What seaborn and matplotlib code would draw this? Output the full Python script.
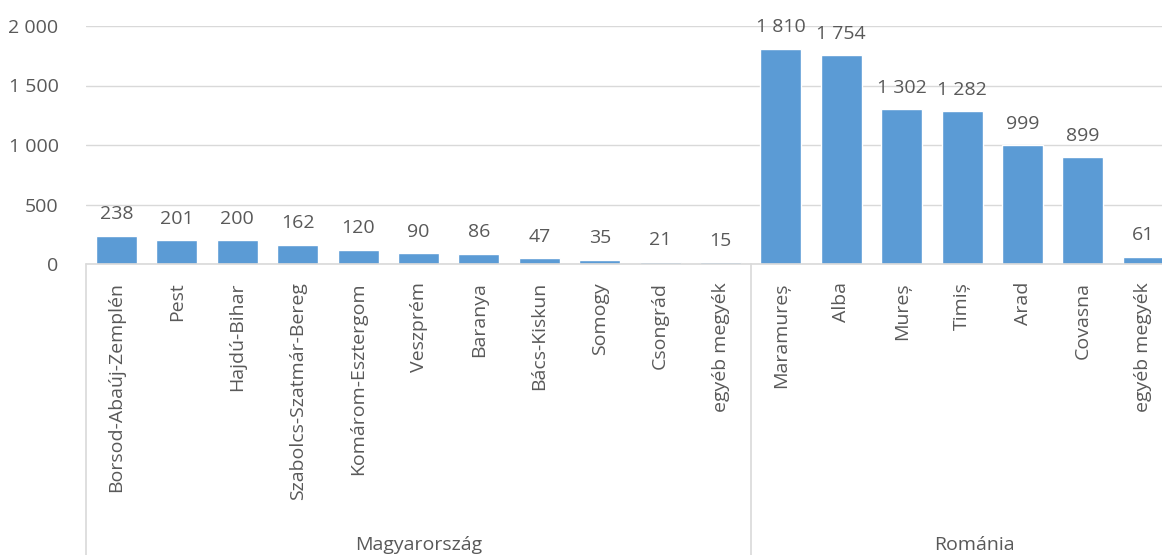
import matplotlib
matplotlib.use("Agg")
import matplotlib.pyplot as plt
import matplotlib.transforms as mtransforms
import seaborn as sns
import pandas as pd

groups = ["Magyarország"] * 11 + ["Románia"] * 7
counties = ["Borsod-Abaúj-Zemplén", "Pest", "Hajdú-Bihar", "Szabolcs-Szatmár-Bereg",
            "Komárom-Esztergom", "Veszprém", "Baranya", "Bács-Kiskun", "Somogy",
            "Csongrád", "egyéb megyék",
            "Maramureș", "Alba", "Mureș", "Timiș", "Arad", "Covasna", "egyéb megyék"]
values = [238, 201, 200, 162, 120, 90, 86, 47, 35, 21, 15,
          1810, 1754, 1302, 1282, 999, 899, 61]
yticks = [0, 500, 1000, 1500, 2000]

sns.set_theme(style="white")
plt.rcParams["font.family"] = ["Open Sans", "DejaVu Sans"]

TXT = "#595959"
BAR = "#5B9BD5"
GRID = "#D9D9D9"

df = pd.DataFrame({"key": [f"{g}|{c}|{i}" for i, (g, c) in enumerate(zip(groups, counties))],
                   "county": counties, "group": groups, "value": values})

W, H = 1162, 555
fig = plt.figure(figsize=(W / 100, H / 100), dpi=100)
left_px, right_px, top_px, zero_px = 86.3, 1173.5, 26, 264
ax = fig.add_axes([left_px / W, 1 - zero_px / H, (right_px - left_px) / W, (zero_px - top_px) / H])

sns.barplot(data=df, x="key", y="value", order=list(df["key"]), color=BAR,
            saturation=1, width=0.68, ax=ax)

ax.set_xlim(-0.5, len(values) - 0.5)
ax.set_ylim(0, 2000)
ax.set_yticks(yticks)
ax.set_yticklabels([f"{v:,}".replace(",", " ") for v in yticks], color=TXT, fontsize=14)
ax.tick_params(axis="y", length=0, pad=20)
ax.grid(axis="y", color=GRID, linewidth=1)
ax.set_axisbelow(True)
for s in ax.spines.values():
    s.set_visible(False)
ax.axhline(0, color=GRID, linewidth=1.2, clip_on=False)
ax.set_xlabel("")
ax.set_ylabel("")

ax.set_xticks(range(len(values)))
ax.set_xticklabels(counties, rotation=90, color=TXT, fontsize=14, va="top", ha="center")
ax.tick_params(axis="x", length=0, pad=13)

for i, v in enumerate(values):
    ax.annotate(f"{v:,}".replace(",", " "), (i, v), xytext=(0, 9), textcoords="offset points",
                ha="center", va="bottom", color=TXT, fontsize=14, clip_on=False)

trans = mtransforms.blended_transform_factory(ax.transData, ax.transAxes)
bottom_ax = -(H - zero_px) / (zero_px - top_px)
for xsep in [-0.5, 10.5]:
    ax.plot([xsep, xsep], [0, bottom_ax], transform=trans, color=GRID, linewidth=1.2, clip_on=False)

label_y = -(545 - zero_px) / (zero_px - top_px)
hu_n = groups.count("Magyarország")
ax.text((hu_n - 1) / 2, label_y, "Magyarország", transform=trans, ha="center", va="center",
        color=TXT, fontsize=14)
ax.text(hu_n + 3.2, label_y, "Románia", transform=trans, ha="center", va="center",
        color=TXT, fontsize=14)

fig.savefig("out.png", dpi=100)
